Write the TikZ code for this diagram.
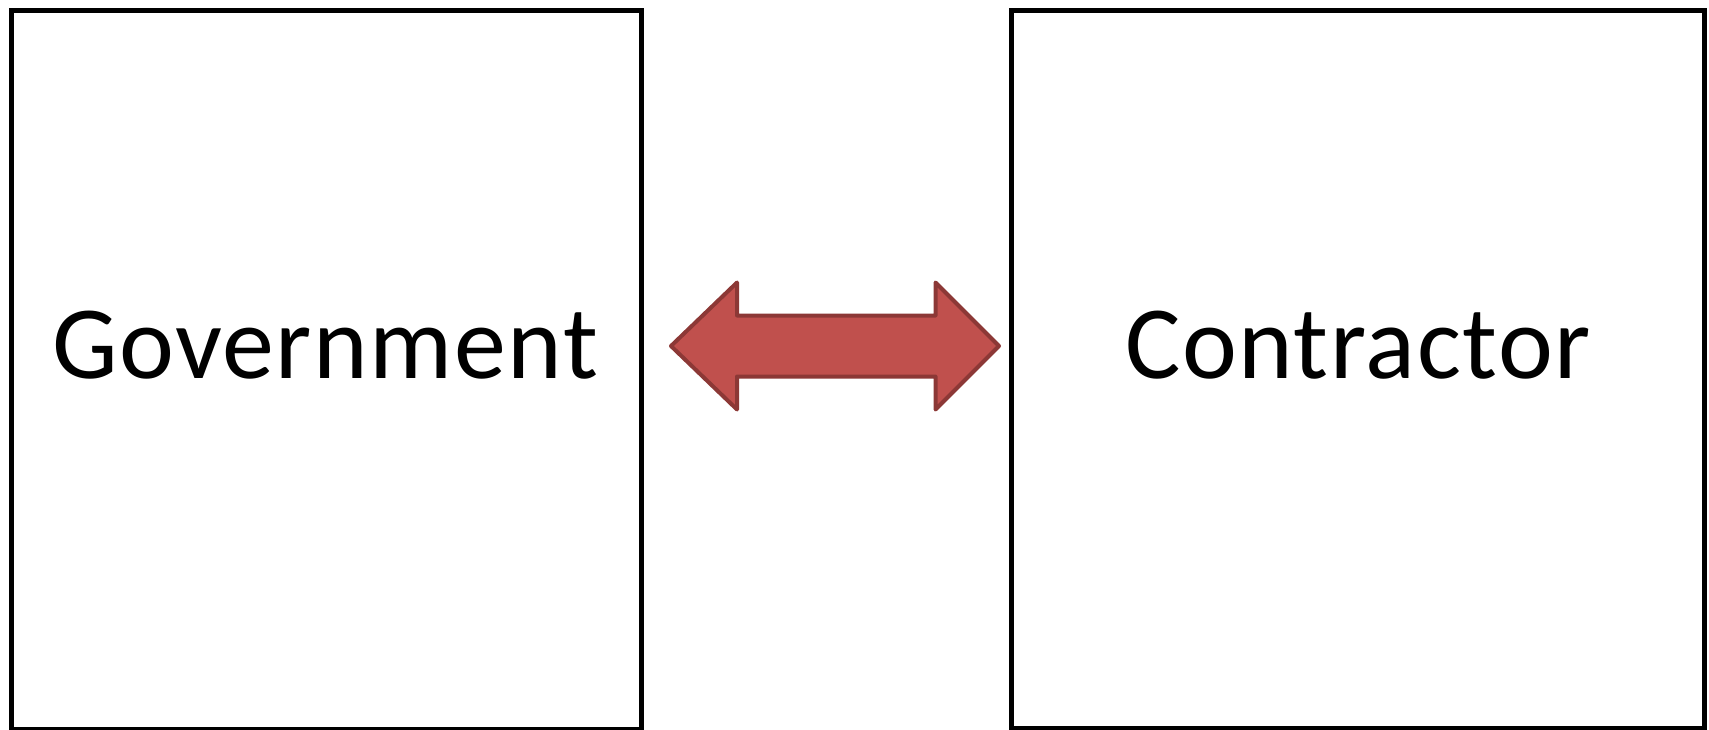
\documentclass[tikz,border=0pt]{standalone}
\usepackage{fontspec}
\setmainfont{Carlito}[LetterSpace=1.5]
\definecolor{arrowfill}{HTML}{C0504D}
\definecolor{arrowline}{HTML}{8C3836}
\begin{document}
\begin{tikzpicture}[x=1pt,y=1pt,
  party/.style={rectangle, draw=black, line width=5pt, inner sep=0pt},
  partyname/.style={anchor=base, font=\fontsize{104}{110}\selectfont},
  link/.style={draw=arrowline, fill=arrowfill, line width=4pt, line join=round}]
\useasboundingbox (0,0) rectangle (1709,-729);

\node[party, minimum width=630pt, minimum height=719pt] (G) at (326.5,-369.5) {};
\node[party, minimum width=693pt, minimum height=718pt] (C) at (1358,-369) {};

\node[partyname] (Gname) at (325,-378) {Government};
\node[partyname] (Cname) at (1358,-378) {Contractor};

% two-headed block arrow between the parties
\draw[link] (671,-346) -- (737,-282.5) -- (737,-315.5) -- (935.5,-315.5)
  -- (935.5,-282.5) -- (999,-346) -- (935.5,-409.5) -- (935.5,-376.5)
  -- (737,-376.5) -- (737,-409.5) -- cycle;
\end{tikzpicture}
\end{document}
